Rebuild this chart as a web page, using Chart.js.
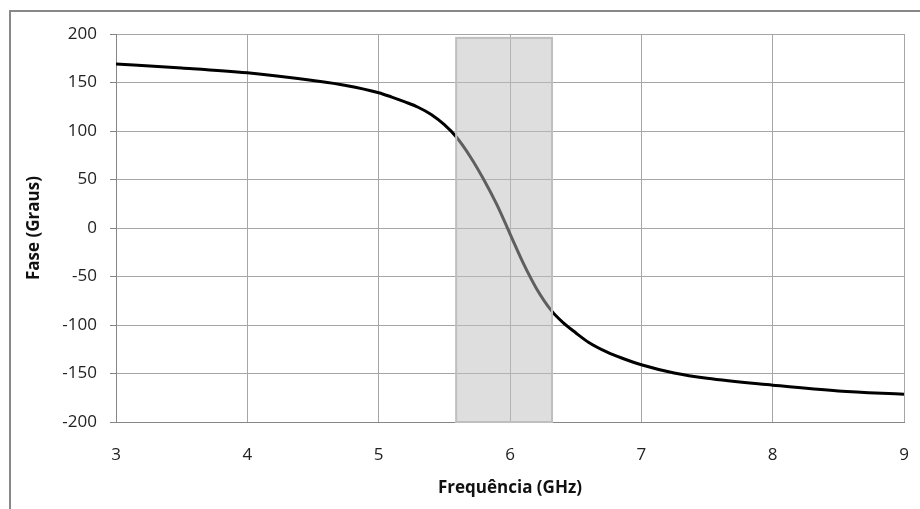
<!DOCTYPE html>
<html lang="pt">
<head>
  <meta charset="UTF-8" />
  <title>Fase (Graus) x Frequência (GHz)</title>
  <script src="https://cdn.jsdelivr.net/npm/chart.js"></script>
  <style>
    body {
      margin: 0;
      background: #fff;
      overflow: hidden;
    }
    .wrap {
      position: relative;
      width: 920px;
      height: 509px;
    }
    .frame {
      position: absolute;
      left: 9px;
      top: 10px;
      right: -10px;
      bottom: -10px;
      border-left: 2px solid #888;
      border-top: 2px solid #888;
      pointer-events: none;
    }
  </style>
</head>
<body>
  <div class="wrap">
    <canvas id="phaseChart"></canvas>
    <div class="frame"></div>
  </div>

  <script>
    // curva de fase
    const freqGHz = [3.0, 3.5, 4.0, 4.5, 4.75, 5.0, 5.1, 5.2, 5.3, 5.4, 5.5, 5.59, 5.7, 5.8, 5.9, 6.0, 6.1, 6.2, 6.32, 6.4, 6.5, 6.6, 6.74, 6.85, 7.0, 7.25, 7.5, 8.0, 8.5, 9.0];
    const phaseDeg = [169, 165, 160, 152, 147, 139.5, 135, 130, 124.5, 117, 106.5, 94, 73, 50, 24, -6, -36, -62, -86, -97, -108, -118, -128, -134, -141, -149.5, -155, -162, -168, -171.5];

    // faixa sombreada (GHz) e limites dela (graus)
    const bandGHz = [5.59, 6.32];
    const bandPhase = [-200, 196];

    const xTicks = [3, 4, 5, 6, 7, 8, 9];
    const yRange = [-200, 200];

    const points = freqGHz.map((f, i) => ({ x: f, y: phaseDeg[i] }));

    // retângulo cinza por cima da curva
    const bandPlugin = {
      id: "band",
      afterDatasetsDraw(chart) {
        const { ctx, scales } = chart;
        const x0 = scales.x.getPixelForValue(bandGHz[0]);
        const x1 = scales.x.getPixelForValue(bandGHz[1]);
        const y0 = scales.y.getPixelForValue(bandPhase[1]);
        const y1 = scales.y.getPixelForValue(bandPhase[0]);
        ctx.save();
        ctx.fillStyle = "rgba(190,190,190,0.5)";
        ctx.fillRect(x0, y0, x1 - x0, y1 - y0);
        ctx.strokeStyle = "#bfbfbf";
        ctx.lineWidth = 2;
        ctx.strokeRect(x0, y0, x1 - x0, y1 - y0);
        ctx.restore();
      }
    };

    const font = { family: "'Open Sans', sans-serif", size: 17 };
    const titleFont = { family: "'Open Sans', sans-serif", size: 17, weight: "bold" };

    new Chart(document.getElementById("phaseChart"), {
      type: "scatter",
      data: {
        datasets: [{
          data: points,
          showLine: true,
          borderColor: "#000",
          borderWidth: 3,
          pointRadius: 0,
          cubicInterpolationMode: "monotone"
        }]
      },
      options: {
        responsive: true,
        maintainAspectRatio: false,
        animation: false,
        layout: { padding: { top: 34, right: 16, left: 0, bottom: 0 } },
        plugins: {
          legend: { display: false },
          tooltip: { enabled: false }
        },
        scales: {
          x: {
            type: "linear",
            min: xTicks[0],
            max: xTicks[xTicks.length - 1],
            afterBuildTicks: s => { s.ticks = xTicks.map(v => ({ value: v })); },
            grid: { color: "#a6a6a6", drawTicks: false },
            border: { color: "#868686", width: 1 },
            ticks: { color: "#222", font: font, padding: 23 },
            title: {
              display: true,
              text: "Frequência (GHz)",
              color: "#111",
              font: titleFont,
              padding: { top: 10, bottom: 11 }
            },
            afterFit: s => {
              s.height = 87;
              s.paddingLeft = 0;
              s.paddingRight = 0;
            }
          },
          y: {
            min: yRange[0],
            max: yRange[1],
            ticks: { stepSize: 50, color: "#222", font: font, padding: 13 },
            grid: { color: "#a6a6a6", tickColor: "#868686", tickLength: 6 },
            border: { color: "#868686", width: 1 },
            title: {
              display: true,
              text: "Fase (Graus)",
              color: "#111",
              font: titleFont,
              padding: { top: 24, bottom: 0 }
            },
            afterFit: s => {
              s.width = 116;
              s.paddingTop = 0;
              s.paddingBottom = 0;
            }
          }
        }
      },
      plugins: [bandPlugin]
    });
  </script>
</body>
</html>
